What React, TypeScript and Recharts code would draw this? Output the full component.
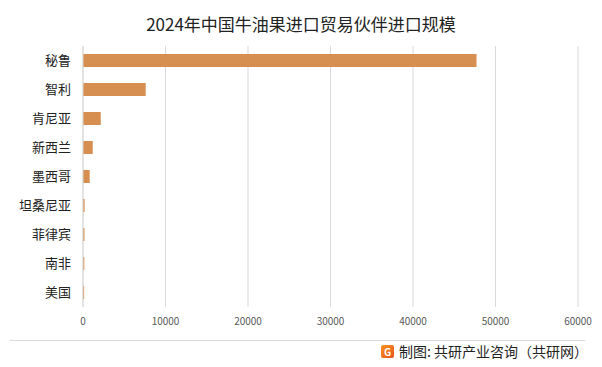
import { Bar, BarChart, CartesianGrid, XAxis, YAxis } from "recharts";

const countries = ["秘鲁", "智利", "肯尼亚", "新西兰", "墨西哥", "坦桑尼亚", "菲律宾", "南非", "美国"];
const importValues = [47700, 7600, 2150, 1180, 810, 200, 180, 160, 140];
const xTicks = [0, 10000, 20000, 30000, 40000, 50000, 60000];

const chartTitle = "2024年中国牛油果进口贸易伙伴进口规模";
const sourceNote = "制图: 共研产业咨询（共研网）";

const data = countries.map((name, i) => ({ name, value: importValues[i] }));

const FONT = '"Noto Sans CJK SC", "Noto Sans", sans-serif';

export default function App() {
  return (
    <div
      style={{
        position: "fixed",
        left: 0,
        top: 0,
        width: 602,
        height: 367,
        background: "#fff",
        fontFamily: FONT,
        overflow: "hidden",
      }}
    >
      <div
        style={{
          position: "absolute",
          top: 11,
          left: 0,
          width: 602,
          textAlign: "center",
          fontSize: 17,
          lineHeight: "26px",
          color: "#222",
        }}
      >
        {chartTitle}
      </div>
      <BarChart
        width={602}
        height={367}
        data={data}
        layout="vertical"
        margin={{ top: 46, right: 24, bottom: 30, left: 0 }}
        barSize={13}
      >
        <CartesianGrid horizontal={false} stroke="#d9d9d9" />
        <XAxis
          type="number"
          domain={[0, 60000]}
          ticks={xTicks}
          interval={0}
          axisLine={false}
          tickLine={false}
          tickSize={0}
          tickMargin={11}
          height={30}
          tick={{ fontSize: 10, fill: "#595959", fontFamily: FONT }}
        />
        <YAxis
          type="category"
          dataKey="name"
          width={83}
          axisLine={{ stroke: "#d9d9d9" }}
          tickLine={false}
          tickSize={0}
          tickMargin={12}
          tick={{ fontSize: 13, fill: "#222", fontFamily: FONT }}
        />
        <Bar dataKey="value" fill="#D68F51" isAnimationActive={false} />
      </BarChart>
      <div
        style={{
          position: "absolute",
          left: 10,
          top: 340,
          width: 575,
          height: 1,
          background: "#d9d9d9",
        }}
      />
      <div
        style={{
          position: "absolute",
          right: 14,
          top: 341,
          height: 20,
          display: "flex",
          alignItems: "center",
          fontSize: 14,
          color: "#222",
        }}
      >
        <div
          style={{
            width: 13,
            height: 13,
            borderRadius: 2,
            background: "linear-gradient(135deg, #F7941D, #E8531F)",
            color: "#fff",
            fontSize: 10,
            fontWeight: 700,
            lineHeight: "13px",
            textAlign: "center",
            marginRight: 5,
          }}
        >
          G
        </div>
        {sourceNote}
      </div>
    </div>
  );
}
